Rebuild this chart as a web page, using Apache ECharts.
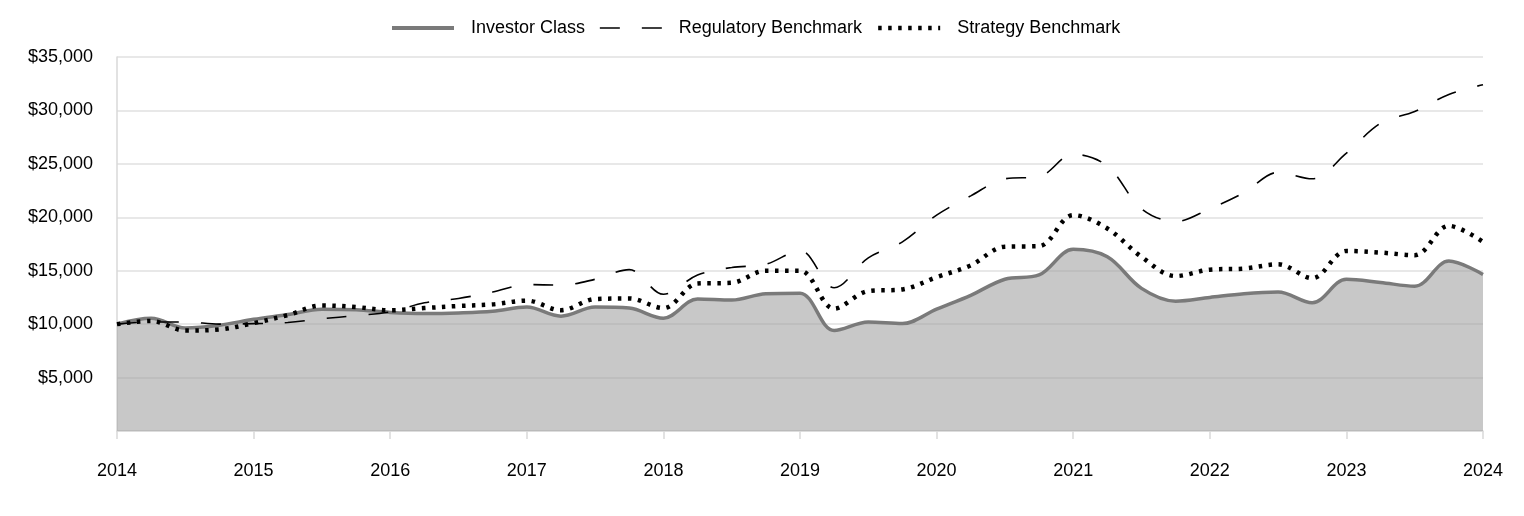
<!DOCTYPE html>
<html>
<head>
<meta charset="utf-8">
<script src="https://cdn.jsdelivr.net/npm/echarts@6/dist/echarts.min.js"></script>
<style>
html,body{margin:0;padding:0;background:#fff;}
#chart{width:1524px;height:516px;}
</style>
</head>
<body>
<div id="chart"></div>
<script>
// Quarterly periods 2014-01 .. 2024-01
const periods = [
  '2014-01','2014-04','2014-07','2014-10',
  '2015-01','2015-04','2015-07','2015-10',
  '2016-01','2016-04','2016-07','2016-10',
  '2017-01','2017-04','2017-07','2017-10',
  '2018-01','2018-04','2018-07','2018-10',
  '2019-01','2019-04','2019-07','2019-10',
  '2020-01','2020-04','2020-07','2020-10',
  '2021-01','2021-04','2021-07','2021-10',
  '2022-01','2022-04','2022-07','2022-10',
  '2023-01','2023-04','2023-07','2023-10',
  '2024-01'
];
const investorClass = [
  10000,10550,9650,9900,
  10450,10900,11400,11350,
  11100,11000,11050,11200,
  11600,10750,11600,11500,
  10550,12350,12250,12850,
  12900,9400,10200,10050,
  11400,12700,14200,14600,
  17000,16300,13350,12150,
  12500,12850,13000,12000,
  14200,13900,13550,15900,
  14650
];
const regulatoryBenchmark = [
  10000,10200,10200,10000,
  10050,10150,10500,10800,
  11150,12000,12400,13000,
  13700,13650,14200,15100,
  12800,14600,15300,15600,
  16900,13400,16200,17700,
  20200,22000,23600,23800,
  25900,24800,20800,19600,
  20800,22300,24200,23600,
  26000,28800,29900,31500,
  32400
];
const strategyBenchmark = [
  10000,10300,9400,9500,
  10100,10850,11750,11600,
  11300,11500,11700,11850,
  12200,11300,12350,12400,
  11500,13800,13870,15000,
  15000,11450,13100,13250,
  14400,15500,17250,17300,
  20200,18950,16300,14500,
  15100,15200,15600,14300,
  16850,16700,16450,19200,
  17700
];
const yTicks = [0,5000,10000,15000,20000,25000,30000,35000];
const seriesNames = ['Investor Class','Regulatory Benchmark','Strategy Benchmark'];

const FONT = 'Arial, "Liberation Sans", sans-serif';
const noSymbol = {color:'rgba(0,0,0,0)',borderWidth:0,opacity:0};
const chart = echarts.init(document.getElementById('chart'), null, {renderer:'canvas'});
chart.setOption({
  animation:false,
  backgroundColor:'#ffffff',
  textStyle:{fontFamily:FONT},
  legend:{
    top:14,
    left:385,
    itemWidth:62,
    itemHeight:14,
    itemGap:14,
    textStyle:{fontFamily:FONT,fontSize:18,color:'#000',padding:[0,0,0,12]},
    data:[
      {name:seriesNames[0],itemStyle:noSymbol,lineStyle:{color:'#7a7a7a',width:4,type:'solid'}},
      {name:seriesNames[1],itemStyle:noSymbol,lineStyle:{color:'#000',width:1.6,type:[20,22]}},
      {name:seriesNames[2],itemStyle:noSymbol,lineStyle:{color:'#000',width:4.5,type:[3.5,6.5]}}
    ]
  },
  grid:{left:117,right:41,top:57,bottom:85,containLabel:false},
  xAxis:{
    type:'category',
    data:periods,
    boundaryGap:false,
    axisLine:{show:true,lineStyle:{color:'#d9d9d9',width:1.5}},
    axisTick:{show:true,interval:3,length:8,lineStyle:{color:'#d9d9d9',width:1.5}},
    axisLabel:{
      interval:3,
      margin:31,
      fontFamily:FONT,fontSize:18,color:'#000',
      formatter:v=>v.slice(0,4)
    },
    splitLine:{show:false}
  },
  yAxis:{
    type:'value',
    min:yTicks[0],
    max:yTicks[yTicks.length-1],
    interval:5000,
    axisLine:{show:true,lineStyle:{color:'#d9d9d9',width:1.5}},
    axisTick:{show:false},
    axisLabel:{
      margin:24,
      fontFamily:FONT,fontSize:18,color:'#000',
      formatter:v=>v===0?'':'$'+v.toLocaleString('en-US')
    },
    splitLine:{show:true,lineStyle:{color:'#e0e0e0',width:1.5}}
  },
  series:[
    {
      name:seriesNames[0],
      type:'line',
      data:investorClass,
      smooth:0.35,
      symbol:'none',
      lineStyle:{color:'#7a7a7a',width:3.5},
      itemStyle:{color:'#7a7a7a'},
      areaStyle:{color:'rgb(160,160,160)',opacity:0.58},
      z:1
    },
    {
      name:seriesNames[1],
      type:'line',
      data:regulatoryBenchmark,
      smooth:0.35,
      symbol:'none',
      lineStyle:{color:'#000',width:1.6,type:[20,22]},
      itemStyle:{color:'#000'},
      z:3
    },
    {
      name:seriesNames[2],
      type:'line',
      data:strategyBenchmark,
      smooth:0.35,
      symbol:'none',
      lineStyle:{color:'#000',width:4.5,type:[3.5,6.5]},
      itemStyle:{color:'#000'},
      z:2
    }
  ]
});
</script>
</body>
</html>
